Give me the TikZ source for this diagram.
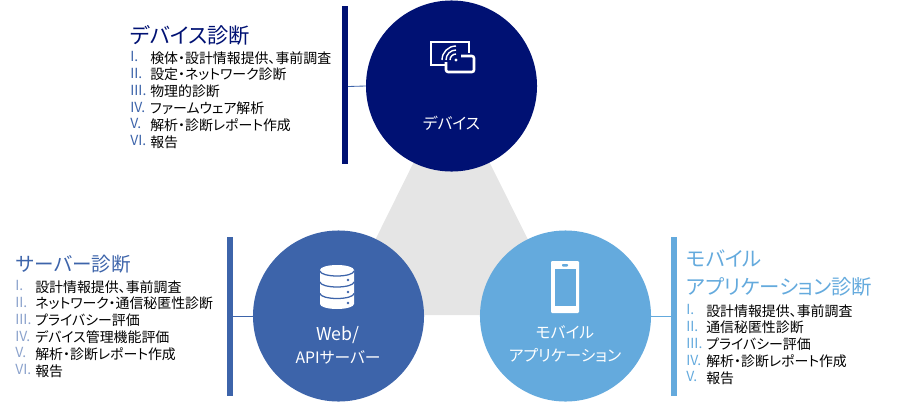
\documentclass[tikz,border=0pt]{standalone}
\usepackage{fontspec}
\setmainfont[RawFeature={+palt}]{Noto Sans CJK JP}
\usetikzlibrary{positioning}
\definecolor{bleunuit}{RGB}{0, 17, 115}
\definecolor{bleumoyen}{RGB}{61, 100, 170}
\definecolor{bleuclair}{RGB}{100, 170, 221}
\definecolor{grisfond}{RGB}{229, 229, 229}
\tikzset{
  rond/.style={circle, minimum size=4.275cm, inner sep=0pt, fill=#1},
  etiquette/.style={align=center, text=white, font=\fontsize{11.2}{16.5}\selectfont},
  titre/.style={anchor=west, inner sep=0pt, text=#1, align=left, font=\fontsize{14.5}{20.5}\selectfont},
  liste/.style={anchor=north west, inner sep=0pt, align=left, font=\fontsize{9.9}{12}\selectfont},
  numero/.style={anchor=north west, inner sep=0pt, align=left, text=#1, font=\fontsize{9.9}{12}\selectfont}
}
\begin{document}
\begin{tikzpicture}[x=0.025cm, y=-0.025cm]
    \useasboundingbox (0,0) rectangle (901,402);
    % triangle de fond
    \coordinate (haut) at (451.5,86);
    \coordinate (gauche) at (338,315);
    \coordinate (droite) at (565.5,315);
    \fill[grisfond] (haut) -- (gauche) -- (droite) -- cycle;
    % les trois cercles
    \node[rond=bleunuit] (device) at (451.5,86) {};
    \node[rond=bleumoyen] (server) at (338.5,316) {};
    \node[rond=bleuclair] (mobile) at (565.5,316) {};
    \node[etiquette] (devicelabel) at (451.5,123) {デバイス};
    \node[etiquette] (serverlabel) at (338,345) {{\fontsize{12.6}{16.5}\selectfont Web/}\\APIサーバー};
    \node[etiquette] (mobilelabel) at (565,344) {モバイル\\アプリケーション};
    % barres verticales
    \fill[bleunuit] (342,6) rectangle (348,164);
    \fill[bleumoyen] (227,237) rectangle (233,396);
    \fill[bleuclair] (671,237) rectangle (677,396);
    \coordinate (devicebar) at (348,86.5);
    \coordinate (serverbar) at (233,316);
    \coordinate (mobilebar) at (671,316);
    \draw[bleumoyen, line width=0.6pt] (devicebar) -- (device.west);
    \draw[bleumoyen, line width=0.6pt] (serverbar) -- (server.west);
    \draw[bleuclair, line width=0.6pt] (mobilebar) -- (mobile.east);
    % icone appareil
    \draw[white, line width=1.8pt] (445,65) -- (431,65) -- (431,42) -- (469,42) -- (469,53);
    \draw[white, line width=1.8pt, rounded corners=1.5pt] (446,62) -- (446,72) -- (474,72) -- (474,56) -- (461,56);
    \fill[white] (456,60) circle (1.7);
    \foreach \r in {6,10,14}
      \draw[white, line width=1pt] (456-\r,60) arc[start angle=-180, end angle=-90, radius=\r];
    % icone base de donnees
    \fill[white] (320,270) -- (320,304) arc[start angle=180, end angle=0, x radius=17, y radius=5]
      -- (354,270) arc[start angle=0, end angle=-180, x radius=17, y radius=5] -- cycle;
    \foreach \y in {271,282,293.5}
      \draw[bleumoyen, line width=0.9pt] (320,\y) arc[start angle=180, end angle=0, x radius=17, y radius=5];
    \foreach \y in {280,292,303}
      \fill[bleumoyen] (348,\y) circle (1.3);
    % icone mobile
    \fill[white, rounded corners=0.8pt] (551,261) rectangle (579,313);
    \fill[bleuclair] (555,268.5) rectangle (575.5,305.5);
    \fill[bleuclair, rounded corners=0.6pt] (562,264) rectangle (568,266.5);
    % titres
    \node[titre=bleunuit, font=\fontsize{15.1}{20.5}\selectfont] (titredevice) at (130,35) {デバイス診断};
    \node[titre=bleumoyen, font=\fontsize{13.9}{20.5}\selectfont] (titreserver) at (16,264) {サーバー診断};
    \node[titre=bleuclair] (titremobile) at (686,273) {モバイル\\アプリケーション診断};
    % listes
    \node[numero=bleumoyen, anchor=north west] (numdevice) at (130,51) {I.\\II.\\III.\\IV.\\V.\\VI.};
    \node[liste] (listedevice) at (150,51) {検体・設計情報提供、事前調査\\設定・ネットワーク診断\\物理的診断\\ファームウェア解析\\解析・診断レポート作成\\報告};
    \node[numero=bleumoyen!60, anchor=north west] (numserver) at (15,280) {I.\\II.\\III.\\IV.\\V.\\VI.};
    \node[liste] (listeserver) at (35,280) {設計情報提供、事前調査\\ネットワーク・通信秘匿性診断\\プライバシー評価\\デバイス管理機能評価\\解析・診断レポート作成\\報告};
    \node[numero=bleuclair, anchor=north west] (nummobile) at (686,304) {I.\\II.\\III.\\IV.\\V.};
    \node[liste] (listemobile) at (706,304) {設計情報提供、事前調査\\通信秘匿性診断\\プライバシー評価\\解析・診断レポート作成\\報告};
\end{tikzpicture}
\end{document}
